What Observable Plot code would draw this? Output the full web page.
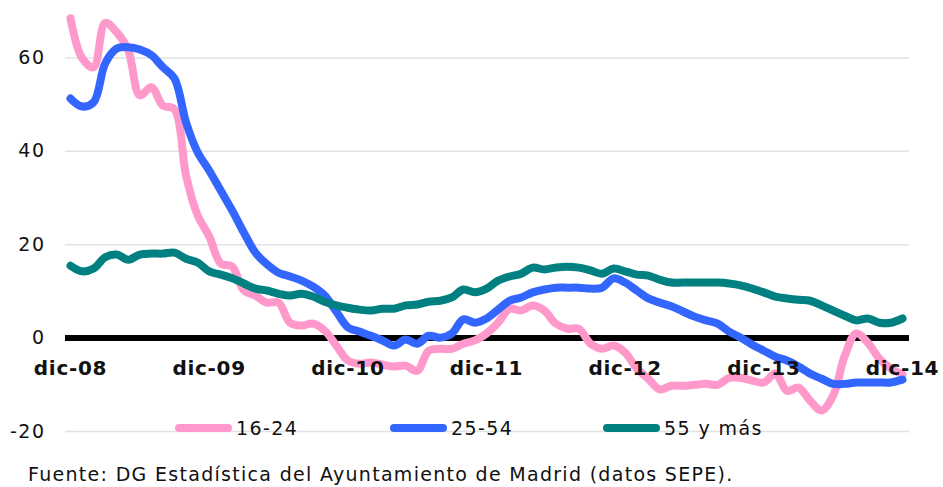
<!DOCTYPE html>
<html><head><meta charset="utf-8">
<script src="https://cdn.jsdelivr.net/npm/d3@7"></script>
<script src="https://cdn.jsdelivr.net/npm/@observablehq/plot@0.6"></script>
<style>
body{margin:0;background:#fff;font-family:"DejaVu Sans",sans-serif;}
#wrap{position:relative;width:943px;height:487px;overflow:hidden;}
#chart{position:absolute;left:0;top:0;}
#legend{position:absolute;left:0;top:412px;width:943px;height:32px;}
#caption{position:absolute;left:28px;top:461px;font-size:19px;line-height:26px;color:#111;white-space:nowrap;letter-spacing:1.3px;}
</style>
</head><body>
<div id="wrap"><div id="chart"></div><svg id="legend" width="943" height="32"></svg><div id="caption">Fuente: DG Estadística del Ayuntamiento de Madrid (datos SEPE).</div></div>
<script>
// Monthly series, dic-08 (index 0) to dic-14 (index 72)
const seriesNames = ["16-24", "25-54", "55 y más"];
const seriesColors = ["#ff99cc", "#3366ff", "#008080"];
const s1624 = [68.5, 60, 58, 67.5, 65.5, 61.6, 52, 53.7, 49.8, 49,
  34.8, 26.3, 21.8, 16, 15.3, 10.2, 9.1, 7.6, 7.6, 3.3,
  2.7, 3.1, 1.6, -1.6, -4.8, -5.5, -5.2, -5.7, -6.1, -5.9,
  -7, -2.7, -2.3, -2.3, -1.2, -0.5, 1, 3.3, 6.3, 5.9,
  7, 5.9, 3.1, 2, 2, -1.2, -2.3, -1.6, -3.1, -6.5,
  -8.7, -11, -10.2, -10.2, -10, -9.8, -10, -8.5, -8.5, -9.1,
  -9.5, -7.6, -11.3, -10.6, -13.4, -15.5, -12.3, -3.8, 1, -1,
  -4.4, -6.5, -7.8];
const s2554 = [51.3, 49.6, 50.5, 58.8, 62, 62.3, 61.8, 60.6, 58, 55.6,
  46.2, 39.8, 35.9, 31.6, 27.3, 22.6, 18.3, 15.8, 14, 13.2,
  12.3, 11, 9.1, 5.7, 2.3, 1.4, 0.5, -0.5, -1.6, -0.3,
  -1.2, 0.5, 0.1, 1, 4, 3.3, 4.2, 6.1, 8, 8.7,
  9.8, 10.4, 10.8, 10.8, 10.8, 10.6, 10.8, 12.8, 11.9, 10.2,
  8.5, 7.6, 6.8, 5.7, 4.6, 3.8, 3.1, 1.4, 0.1, -1.4,
  -2.7, -4, -4.8, -6.1, -7.6, -8.7, -9.8, -9.8, -9.5, -9.5,
  -9.5, -9.5, -8.9];
const s55 = [15.5, 14.3, 14.9, 17.3, 17.9, 16.8, 17.9, 18.1, 18.1, 18.3,
  17, 16.2, 14.3, 13.6, 12.8, 11.7, 10.6, 10.2, 9.5, 9.1,
  9.5, 8.9, 7.8, 7, 6.5, 6.1, 5.9, 6.3, 6.3, 7,
  7.2, 7.8, 8, 8.7, 10.4, 9.8, 10.6, 12.3, 13.2, 13.8,
  15.1, 14.7, 15.1, 15.3, 15.1, 14.5, 13.8, 14.9, 14.3, 13.6,
  13.4, 12.5, 11.9, 11.9, 11.9, 11.9, 11.9, 11.7, 11.3, 10.6,
  9.8, 8.9, 8.5, 8.2, 8, 7, 5.9, 4.8, 3.8, 4.2,
  3.3, 3.3, 4.2];
const xTickIndex = [0, 12, 24, 36, 48, 60, 72];
const xTickLabels = ["dic-08", "dic-09", "dic-10", "dic-11", "dic-12", "dic-13", "dic-14"];
const yTicks = [-20, 0, 20, 40, 60];
const yGrid = [-20, 20, 40, 60];

const allSeries = [s1624, s2554, s55];
const rows = [];
allSeries.forEach((arr, k) => arr.forEach((v, i) => rows.push({i, v, s: seriesNames[k]})));

const chart = Plot.plot({
  width: 943, height: 445,
  marginLeft: 70, marginRight: 41, marginTop: 0, marginBottom: 14,
  style: {fontFamily: "DejaVu Sans, sans-serif", background: "#fff", color: "#111"},
  x: {domain: [0, 72], axis: null},
  y: {domain: [-20, 72.3], axis: null},
  color: {domain: seriesNames, range: seriesColors},
  marks: [
    Plot.ruleY(yGrid, {stroke: "#e2e2e2", strokeWidth: 1.5, insetLeft: -5, insetRight: -7}),
    Plot.axisY({ticks: yTicks, tickSize: 0, tickPadding: 25, fontSize: 19, label: null, tickFormat: d => String(d), className: "yax"}),
    Plot.ruleY([0], {stroke: "#000", strokeWidth: 6, insetLeft: -5, insetRight: -7}),
    Plot.line(rows, {x: "i", y: "v", z: "s", stroke: "s", strokeWidth: 8, curve: "catmull-rom", strokeLinecap: "round", strokeLinejoin: "round"}),
    Plot.text(xTickIndex, {x: d => d, y: 0, text: (d, j) => xTickLabels[j], dy: 30, fontSize: 20, fontWeight: "bold", fill: "#111", className: "xlab"})
  ]
});
document.getElementById("chart").appendChild(chart);
d3.select(chart).selectAll(".yax text").style("letter-spacing", "1.5px");
d3.select(chart).selectAll(".xlab text").style("letter-spacing", "0.7px");

// Legend
const leg = d3.select("#legend");
const legX = [175, 390, 603];
seriesNames.forEach((name, k) => {
  const x0 = legX[k];
  leg.append("line").attr("x1", x0 + 4).attr("x2", x0 + 53).attr("y1", 16).attr("y2", 16)
    .attr("stroke", seriesColors[k]).attr("stroke-width", 8).attr("stroke-linecap", "round");
  leg.append("text").attr("x", x0 + 61).attr("y", 16).attr("dy", "0.35em")
    .attr("font-size", 19).attr("font-family", "DejaVu Sans, sans-serif").attr("fill", "#111")
    .style("letter-spacing", "1.4px").text(name);
});
</script>
</body></html>
